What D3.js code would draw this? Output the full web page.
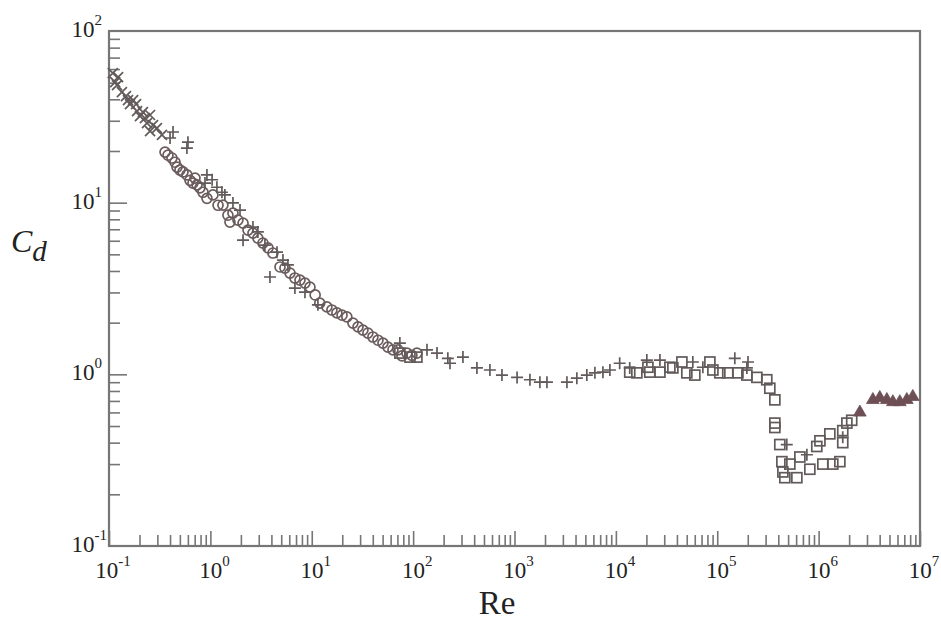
<!DOCTYPE html>
<html lang="en">
<head>
<meta charset="utf-8">
<title>Sphere drag coefficient vs Reynolds number</title>
<script src="https://d3js.org/d3.v7.min.js"></script>
<style>
  body { margin: 0; background: #fff; }
  text { font-family: "Liberation Serif", "DejaVu Serif", serif; fill: #222; }
</style>
</head>
<body>
<script>
// size and plot frame
var w = 941, h = 628;
var m = {l: 109, r: 920, t: 31, b: 546};

// data (Re, Cd)
var crossRe = [0.109, 0.115, 0.120, 0.123, 0.134, 0.147, 0.154, 0.161, 0.173, 0.185, 0.189, 0.202, 0.216, 0.226,
               0.237, 0.254, 0.272, 0.254, 0.297, 0.333];
var crossCd = [56.9, 50.4, 48.4, 53.8, 44.0, 41.8, 39.6, 37.5, 39.6, 37.5, 34.1, 31.9, 33.7, 31.1,
               29.1, 32.4, 28.3, 26.1, 27.2, 24.8];

var plusRe = [0.428, 0.400, 0.601, 0.587, 0.925, 0.885, 1.04, 1.16, 1.30, 1.39, 1.67, 1.96, 2.63, 2.10, 2.94, 3.45,
              4.54, 5.20, 3.87, 5.82, 6.82, 8.57, 11.5,
              74, 137, 172, 220, 231, 310, 426, 572, 752, 1060, 1420, 1780, 2090, 3290, 4120, 5170, 6210, 7450, 8730,
              10900, 13700, 20200, 27200, 57400, 72100, 149000, 201000, 196000, 485000, 766000, 1730000];
var plusCd = [25.8, 23.8, 22.5, 20.8, 14.5, 13.0, 13.6, 12.3, 11.5, 11.1, 9.96, 9.06, 7.21, 6.05, 6.75, 5.66,
              5.15, 4.63, 3.69, 4.34, 3.18, 3.01, 2.54,
              1.52, 1.39, 1.33, 1.24, 1.16, 1.26, 1.09, 1.06, 0.99, 0.96, 0.93, 0.90, 0.90, 0.90, 0.95, 0.99, 1.02, 1.03, 1.06,
              1.16, 1.09, 1.21, 1.21, 1.18, 1.10, 1.24, 1.18, 1.09, 0.39, 0.34, 0.43];

var circleRe = [0.357, 0.382, 0.418, 0.448, 0.469, 0.501, 0.537, 0.587, 0.629, 0.673, 0.705, 0.738, 0.789, 0.845,
                0.925, 1.06, 1.19, 1.33, 1.49, 1.56, 1.67, 1.87, 2.10, 2.35, 2.63, 2.94, 3.30, 3.70, 4.14, 4.86,
                5.44, 6.10, 6.82, 7.65, 8.57, 9.6, 10.8, 12.0, 14.1, 15.8, 17.7, 19.9, 22.2, 25.5, 28.6, 32.0,
                35.8, 40.1, 45.0, 50.4, 56.4, 63.2, 70.8, 77.6, 86.9, 97.3, 109];
var circleCd = [19.7, 18.9, 18.2, 17.2, 16.1, 15.5, 15.1, 14.5, 13.5, 13.0, 13.9, 12.7, 12.2, 11.5,
                10.6, 11.1, 9.66, 9.68, 8.45, 7.71, 8.69, 7.92, 7.60, 6.92, 6.65, 6.22, 5.82, 5.45, 5.09, 4.22,
                4.16, 3.89, 3.64, 3.54, 3.40, 3.22, 2.90, 2.60, 2.47, 2.37, 2.28, 2.21, 2.16, 1.99, 1.89, 1.81,
                1.74, 1.65, 1.58, 1.52, 1.44, 1.39, 1.39, 1.28, 1.33, 1.29, 1.33];

var squareRe = [74, 93, 109, 13700, 16100, 20700, 21600, 27200, 34100, 36500, 44800, 50100, 60100, 84600, 90600,
                106000, 127000, 160000, 196000, 246000, 308000, 330000, 370000, 370000, 370000, 414000, 434000, 444000,
                464000, 610000, 520000, 653000, 819000, 959000, 1030000, 1100000, 1290000, 1380000, 1620000, 1730000,
                1730000, 1900000, 2120000];
var squareCd = [1.33, 1.26, 1.26, 1.03, 1.02, 1.10, 1.03, 1.03, 1.10, 1.09, 1.18, 1.02, 0.99, 1.18, 1.06,
                1.02, 1.02, 1.02, 0.99, 0.96, 0.93, 0.83, 0.71, 0.52, 0.49, 0.39, 0.31, 0.27,
                0.25, 0.25, 0.30, 0.33, 0.28, 0.38, 0.41, 0.30, 0.45, 0.30, 0.31, 0.40,
                0.47, 0.52, 0.54];

var triRe = [2550000, 3430000, 4010000, 4710000, 5400000, 6320000, 7410000, 8490000];
var triCd = [0.60, 0.71, 0.73, 0.71, 0.69, 0.69, 0.71, 0.74];

// tick labels (powers of ten)
var xExps = [-1, 0, 1, 2, 3, 4, 5, 6, 7];
var yExps = [-1, 0, 1, 2];

var x = d3.scaleLog().domain([0.1, 1e7]).range([m.l, m.r]);
var y = d3.scaleLog().domain([0.1, 100]).range([m.b, m.t]);

var svg = d3.select("body").append("svg")
            .attr("width", w)
            .attr("height", h);

// minor ticks 2..9 within every decade
function minors(exps) {
  var out = [];
  exps.slice(0, -1).forEach(function(e) {
    for (var k = 2; k <= 9; k++) out.push(k * Math.pow(10, e));
  });
  return out;
}
var xMajor = xExps.map(function(e) { return Math.pow(10, e); });
var yMajor = yExps.map(function(e) { return Math.pow(10, e); });

var axisColor = "#767676";

function styleAxis(g) {
  g.select(".domain").remove();
  g.selectAll("line").attr("stroke", axisColor).attr("stroke-width", 1.6);
}

svg.append("g").attr("transform", "translate(0," + m.b + ")")
   .call(d3.axisBottom(x).tickValues(minors(xExps)).tickSize(-11).tickFormat(""))
   .call(styleAxis);
svg.append("g").attr("transform", "translate(0," + m.b + ")")
   .call(d3.axisBottom(x).tickValues(xMajor).tickSize(-15).tickFormat(""))
   .call(styleAxis);
svg.append("g").attr("transform", "translate(" + m.l + ",0)")
   .call(d3.axisLeft(y).tickValues(minors(yExps)).tickSize(-11).tickFormat(""))
   .call(styleAxis);
svg.append("g").attr("transform", "translate(" + m.l + ",0)")
   .call(d3.axisLeft(y).tickValues(yMajor.slice(1, 3)).tickSize(-18).tickFormat(""))
   .call(styleAxis);

// frame
svg.append("rect")
   .attr("x", m.l).attr("y", m.t)
   .attr("width", m.r - m.l).attr("height", m.b - m.t)
   .attr("fill", "none")
   .attr("stroke", axisColor)
   .attr("stroke-width", 2.2);

// tick labels with superscripts
svg.selectAll("text.xl")
   .data(xExps)
   .enter()
   .append("text")
   .attr("class", "xl")
   .attr("x", function(d) { return x(Math.pow(10, d)) + 4; })
   .attr("y", 578)
   .attr("text-anchor", "middle")
   .attr("font-size", "23px")
   .each(function(d) {
     var t = d3.select(this);
     t.append("tspan").text("10");
     t.append("tspan").attr("dy", -12).attr("font-size", "15px").text(d);
   });

svg.selectAll("text.yl")
   .data(yExps)
   .enter()
   .append("text")
   .attr("class", "yl")
   .attr("x", function(d) { return d < 0 ? 107 : 102; })
   .attr("y", function(d) { return y(Math.pow(10, d)) + 6; })
   .attr("text-anchor", "end")
   .attr("font-size", "23px")
   .each(function(d) {
     var t = d3.select(this);
     t.append("tspan").text("10");
     t.append("tspan").attr("dy", -12).attr("font-size", "15px").text(d);
   });

// axis titles
svg.append("text")
   .attr("x", 497).attr("y", 614)
   .attr("text-anchor", "middle")
   .attr("font-size", "33px")
   .text("Re");

var cd = svg.append("text")
   .attr("x", 11).attr("y", 252)
   .attr("font-size", "32px")
   .attr("font-style", "italic");
cd.append("tspan").text("C");
cd.append("tspan").attr("dy", 9).attr("font-size", "29px").text("d");

// markers
var ink = "#625a5a";
function pairs(a, b) { return a.map(function(v, i) { return [v, b[i]]; }); }

svg.append("g").selectAll("path")
   .data(pairs(crossRe, crossCd))
   .enter().append("path")
   .attr("transform", function(d) { return "translate(" + x(d[0]) + "," + y(d[1]) + ")"; })
   .attr("d", "M-5,-5L5,5M-5,5L5,-5")
   .attr("stroke", ink).attr("stroke-width", 1.7).attr("fill", "none");

svg.append("g").selectAll("circle")
   .data(pairs(circleRe, circleCd))
   .enter().append("circle")
   .attr("cx", function(d) { return x(d[0]); })
   .attr("cy", function(d) { return y(d[1]); })
   .attr("r", 5)
   .attr("stroke", "#6b5c5e").attr("stroke-width", 1.7).attr("fill", "none");

svg.append("g").selectAll("rect")
   .data(pairs(squareRe, squareCd))
   .enter().append("rect")
   .attr("x", function(d) { return x(d[0]) - 5; })
   .attr("y", function(d) { return y(d[1]) - 5; })
   .attr("width", 10).attr("height", 10)
   .attr("stroke", ink).attr("stroke-width", 1.7).attr("fill", "none");

svg.append("g").selectAll("path")
   .data(pairs(plusRe, plusCd))
   .enter().append("path")
   .attr("transform", function(d) { return "translate(" + x(d[0]) + "," + y(d[1]) + ")"; })
   .attr("d", "M-6,0H6M0,-6V6")
   .attr("stroke", ink).attr("stroke-width", 1.7).attr("fill", "none");

svg.append("g").selectAll("path")
   .data(pairs(triRe, triCd))
   .enter().append("path")
   .attr("transform", function(d) { return "translate(" + x(d[0]) + "," + y(d[1]) + ")"; })
   .attr("d", d3.symbol().type(d3.symbolTriangle).size(70))
   .attr("fill", "#6d4f55").attr("stroke", "#6d4f55").attr("stroke-width", 0.8);
</script>
</body>
</html>
